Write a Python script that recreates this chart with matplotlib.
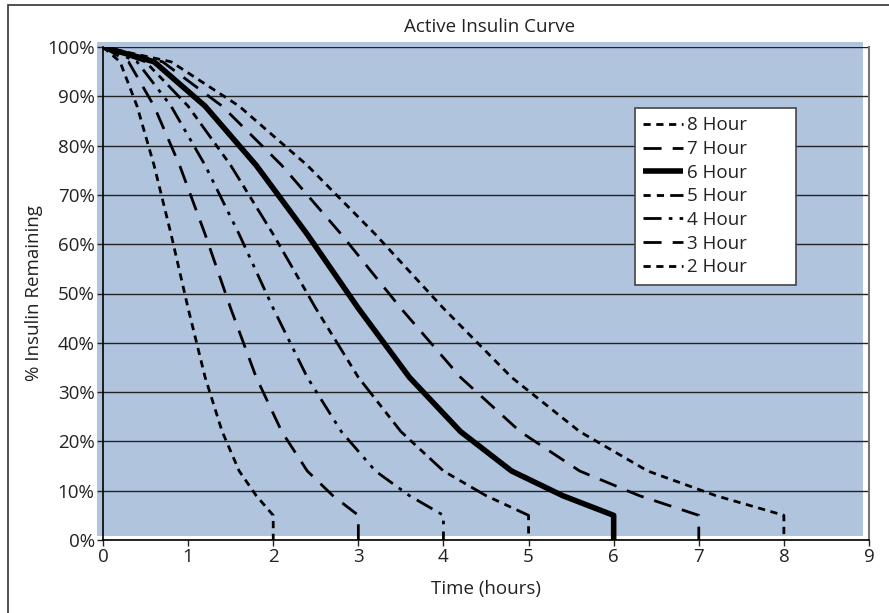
#coding utf-8
# Active insulin curve: % of insulin remaining over time for 2-8 hour durations
import matplotlib
matplotlib.use("Agg")
import matplotlib.pyplot as plt
from matplotlib.patches import Rectangle
from matplotlib.ticker import FuncFormatter

plt.rcParams['font.family'] = ['Open Sans', 'DejaVu Sans']

# data (hours, % remaining); last point is the drop to 0
remaining = [100, 97, 88, 76, 62, 47, 33, 22, 14, 9, 5, 0]

hours_8 = [0, 0.8, 1.6, 2.4, 3.2, 4.0, 4.8, 5.6, 6.4, 7.2, 8.0, 8.0]
hours_7 = [0, 0.7, 1.4, 2.1, 2.8, 3.5, 4.2, 4.9, 5.6, 6.3, 7.0, 7.0]
hours_6 = [0, 0.6, 1.2, 1.8, 2.4, 3.0, 3.6, 4.2, 4.8, 5.4, 6.0, 6.0]
hours_5 = [0, 0.5, 1.0, 1.5, 2.0, 2.5, 3.0, 3.5, 4.0, 4.5, 5.0, 5.0]
hours_4 = [0, 0.4, 0.8, 1.2, 1.6, 2.0, 2.4, 2.8, 3.2, 3.6, 4.0, 4.0]
hours_3 = [0, 0.3, 0.6, 0.9, 1.2, 1.5, 1.8, 2.1, 2.4, 2.7, 3.0, 3.0]
hours_2 = [0, 0.2, 0.4, 0.6, 0.8, 1.0, 1.2, 1.4, 1.6, 1.8, 2.0, 2.0]

labels = ["8 Hour", "7 Hour", "6 Hour", "5 Hour", "4 Hour", "3 Hour", "2 Hour"]
series = [hours_8, hours_7, hours_6, hours_5, hours_4, hours_3, hours_2]
xticks = list(range(0, 10))
yticks = list(range(0, 101, 10))

# line styles per curve
styles = [
    dict(lw=2.0, dashes=(2.6, 2.0)),
    dict(lw=2.0, dashes=(6.5, 4.0)),
    dict(lw=4.0, dashes=()),
    dict(lw=2.0, dashes=(2.6, 2.2, 2.6, 2.2, 6.5, 2.2)),
    dict(lw=2.0, dashes=(6.5, 2.6, 1.3, 2.6, 1.3, 2.6)),
    dict(lw=2.0, dashes=(6.5, 4.0)),
    dict(lw=2.0, dashes=(2.6, 2.0)),
]

W, H = 889, 613
fig = plt.figure(figsize=(W / 100, H / 100), dpi=100)

# outer frame and blue plot background
fig.patches.append(Rectangle((8 / W, -0.05), 1.0, 1 - 5 / H + 0.05,
                             transform=fig.transFigure, fill=False,
                             edgecolor="#333333", lw=1.2, zorder=-2))
fig.patches.append(Rectangle((97 / W, 1 - 536 / H), (863 - 97) / W, (536 - 42) / H,
                             transform=fig.transFigure, facecolor="#B0C4DE",
                             edgecolor="none", zorder=-1))

ax = fig.add_axes([103 / W, 1 - 540 / H, (869 - 103) / W, (540 - 47) / H])
ax.set_facecolor("none")

for hrs, lab, st in zip(series, labels, styles):
    line, = ax.plot(hrs, remaining, color="black", lw=st["lw"], label=lab,
                    solid_capstyle="butt", dash_capstyle="butt")
    if st["dashes"]:
        line.set_dashes(st["dashes"])

ax.set_xlim(0, 9)
ax.set_ylim(0, 100)
ax.set_xticks(xticks)
ax.set_yticks(yticks)
ax.yaxis.set_major_formatter(FuncFormatter(lambda v, p: "%d%%" % v))
ax.grid(axis="y", color="#222222", lw=1.0)
ax.set_axisbelow(True)
ax.tick_params(labelsize=13.5, colors="#222222", length=4, width=1, pad=2)

for s in ["left", "bottom"]:
    ax.spines[s].set_color("black")
    ax.spines[s].set_linewidth(1.2)
ax.spines["top"].set_visible(False)
ax.spines["right"].set_color("#777777")
ax.spines["right"].set_linewidth(1.5)

fig.text(490 / W, 1 - 27 / H, "Active Insulin Curve", ha="center", va="center",
         fontsize=13.5, color="#222222")
fig.text(486 / W, 1 - 589 / H, "Time (hours)", ha="center", va="center",
         fontsize=13.5, color="#222222")
fig.text(34 / W, 1 - 293 / H, "% Insulin Remaining", ha="center", va="center",
         rotation=90, fontsize=13.5, color="#222222")

# legend box spans 635..796 px horizontally, top at 108 px
leg = ax.legend(loc="upper left",
                bbox_to_anchor=(635 / W, 1 - 286 / H, 161 / W, 178 / H),
                bbox_transform=fig.transFigure, mode="expand", fontsize=13.5,
                frameon=True, fancybox=False, shadow=False, handlelength=2.1,
                handletextpad=0.2, labelspacing=0.3, borderpad=0.45,
                borderaxespad=0)
leg.get_frame().set_edgecolor("#444444")
leg.get_frame().set_linewidth(1.2)
leg.get_frame().set_alpha(1)
for t in leg.get_texts():
    t.set_color("#222222")

fig.savefig("out.png", dpi=100)
